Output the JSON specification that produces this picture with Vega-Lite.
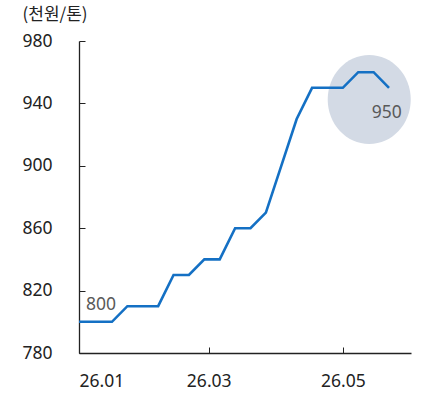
{
  "$schema": "https://vega.github.io/schema/vega-lite/v6.json",
  "width": 332,
  "height": 312,
  "autosize": {"type": "none"},
  "padding": {"left": 79, "top": 41, "right": 10, "bottom": 43},
  "background": "white",
  "config": {"view": {"stroke": null}, "font": "Noto Sans"},
  "datasets": {
    "price": [
      {"date": "2026-01-01", "value": 800},
      {"date": "2026-01-16", "value": 800},
      {"date": "2026-01-23", "value": 810},
      {"date": "2026-01-30", "value": 810},
      {"date": "2026-02-06", "value": 810},
      {"date": "2026-02-13", "value": 830},
      {"date": "2026-02-20", "value": 830},
      {"date": "2026-02-27", "value": 840},
      {"date": "2026-03-06", "value": 840},
      {"date": "2026-03-13", "value": 860},
      {"date": "2026-03-20", "value": 860},
      {"date": "2026-03-27", "value": 870},
      {"date": "2026-04-03", "value": 900},
      {"date": "2026-04-10", "value": 930},
      {"date": "2026-04-17", "value": 950},
      {"date": "2026-04-24", "value": 950},
      {"date": "2026-05-01", "value": 950},
      {"date": "2026-05-08", "value": 960},
      {"date": "2026-05-15", "value": 960},
      {"date": "2026-05-22", "value": 950}
    ],
    "highlight": [{"date": "2026-05-13", "value": 942.5}],
    "labels": [
      {"date": "2026-01-11", "value": 810.8, "text": "800"},
      {"date": "2026-05-21", "value": 933.8, "text": "950"}
    ]
  },
  "layer": [
    {
      "data": {"name": "highlight"},
      "mark": {
        "type": "point",
        "filled": true,
        "color": "#d3dae5",
        "opacity": 1,
        "shape": "M-0.933,0 A0.933,1 0 1,0 0.933,0 A0.933,1 0 1,0 -0.933,0 Z",
        "size": 7921,
        "strokeWidth": 0
      },
      "encoding": {
        "x": {"field": "date", "type": "temporal"},
        "y": {"field": "value", "type": "quantitative"}
      }
    },
    {
      "data": {"name": "price"},
      "mark": {"type": "line", "color": "#1470c4", "strokeWidth": 2.6, "strokeJoin": "miter"},
      "encoding": {
        "x": {
          "field": "date",
          "type": "temporal",
          "scale": {"domain": ["2026-01-01", "2026-06-01"]},
          "axis": {
            "title": null,
            "values": ["2026-01-01", "2026-03-01", "2026-05-01"],
            "format": "%y.%m",
            "grid": false,
            "domainColor": "#222222",
            "domainWidth": 1.3,
            "tickColor": "#222222",
            "tickSize": -6,
            "labelPadding": 25,
            "labelFontSize": 17.5,
            "labelColor": "#222222",
            "labelFont": "Noto Sans"
          }
        },
        "y": {
          "field": "value",
          "type": "quantitative",
          "scale": {"domain": [780, 980], "zero": false, "nice": false},
          "axis": {
            "values": [780, 820, 860, 900, 940, 980],
            "grid": false,
            "domainColor": "#222222",
            "domainWidth": 1.3,
            "tickColor": "#222222",
            "tickSize": -6,
            "labelPadding": 33,
            "labelFontSize": 17.5,
            "labelColor": "#222222",
            "labelFont": "Noto Sans",
            "title": "(천원/톤)",
            "titleAngle": 0,
            "titleAlign": "left",
            "titleBaseline": "middle",
            "titleX": -57,
            "titleY": -27,
            "titleFont": "Noto Sans CJK KR",
            "titleFontSize": 17,
            "titleFontWeight": "normal",
            "titleColor": "#222222"
          }
        }
      }
    },
    {
      "data": {"name": "labels"},
      "mark": {"type": "text", "fontSize": 17.5, "color": "#595959", "align": "center", "baseline": "middle", "font": "Noto Sans"},
      "encoding": {
        "x": {"field": "date", "type": "temporal"},
        "y": {"field": "value", "type": "quantitative"},
        "text": {"field": "text"}
      }
    }
  ]
}
